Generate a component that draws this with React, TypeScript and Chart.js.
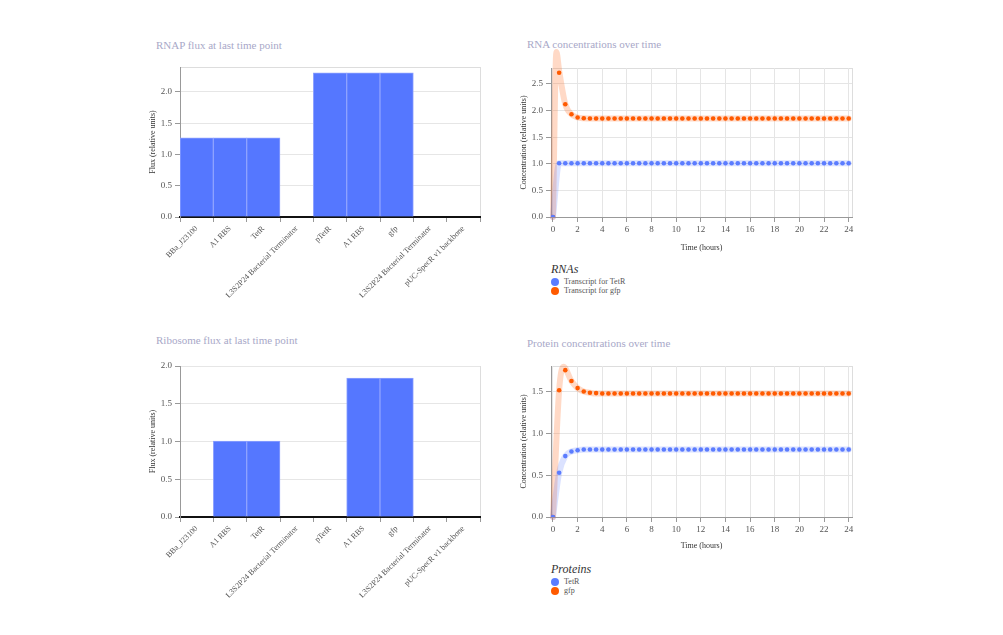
import React, { useEffect, useRef } from 'react';
import { Chart, registerables } from 'chart.js';

Chart.register(...registerables);

const FONT = "'Liberation Serif', 'DejaVu Serif', serif";

// ---------- Data ----------
const partLabels = [
  'BBa_J23100',
  'A1 RBS',
  'TetR',
  'L3S2P24 Bacterial Terminator',
  'pTetR',
  'A1 RBS',
  'gfp',
  'L3S2P24 Bacterial Terminator',
  'pUC-SpecR v1 backbone',
];
const rnapFlux = [1.265, 1.265, 1.265, 0, 2.305, 2.305, 2.305, 0, 0];
const ribosomeFlux = [0, 1.005, 1.005, 0, 0, 1.84, 1.84, 0, 0];

const times = [
  0, 0.5, 1, 1.5, 2, 2.5, 3, 3.5, 4, 4.5,
  5, 5.5, 6, 6.5, 7, 7.5, 8, 8.5, 9, 9.5,
  10, 10.5, 11, 11.5, 12, 12.5, 13, 13.5, 14, 14.5,
  15, 15.5, 16, 16.5, 17, 17.5, 18, 18.5, 19, 19.5,
  20, 20.5, 21, 21.5, 22, 22.5, 23, 23.5, 24,
];

const rnaTetR = [
  0, 1.01, 1.01, 1.01, 1.01, 1.01, 1.01, 1.01, 1.01, 1.01,
  1.01, 1.01, 1.01, 1.01, 1.01, 1.01, 1.01, 1.01, 1.01, 1.01,
  1.01, 1.01, 1.01, 1.01, 1.01, 1.01, 1.01, 1.01, 1.01, 1.01,
  1.01, 1.01, 1.01, 1.01, 1.01, 1.01, 1.01, 1.01, 1.01, 1.01,
  1.01, 1.01, 1.01, 1.01, 1.01, 1.01, 1.01, 1.01, 1.01,
];
const rnaGfp = [
  0, 2.71, 2.12, 1.93, 1.87, 1.855, 1.85, 1.85, 1.85, 1.85,
  1.85, 1.85, 1.85, 1.85, 1.85, 1.85, 1.85, 1.85, 1.85, 1.85,
  1.85, 1.85, 1.85, 1.85, 1.85, 1.85, 1.85, 1.85, 1.85, 1.85,
  1.85, 1.85, 1.85, 1.85, 1.85, 1.85, 1.85, 1.85, 1.85, 1.85,
  1.85, 1.85, 1.85, 1.85, 1.85, 1.85, 1.85, 1.85, 1.85,
];
const protTetR = [
  0, 0.53, 0.73, 0.785, 0.8, 0.81, 0.81, 0.81, 0.81, 0.81,
  0.81, 0.81, 0.81, 0.81, 0.81, 0.81, 0.81, 0.81, 0.81, 0.81,
  0.81, 0.81, 0.81, 0.81, 0.81, 0.81, 0.81, 0.81, 0.81, 0.81,
  0.81, 0.81, 0.81, 0.81, 0.81, 0.81, 0.81, 0.81, 0.81, 0.81,
  0.81, 0.81, 0.81, 0.81, 0.81, 0.81, 0.81, 0.81, 0.81,
];
const protGfp = [
  0, 1.52, 1.76, 1.63, 1.545, 1.505, 1.49, 1.485, 1.48, 1.48,
  1.48, 1.48, 1.48, 1.48, 1.48, 1.48, 1.48, 1.48, 1.48, 1.48,
  1.48, 1.48, 1.48, 1.48, 1.48, 1.48, 1.48, 1.48, 1.48, 1.48,
  1.48, 1.48, 1.48, 1.48, 1.48, 1.48, 1.48, 1.48, 1.48, 1.48,
  1.48, 1.48, 1.48, 1.48, 1.48, 1.48, 1.48, 1.48, 1.48,
];

// Shaded uncertainty bands
const rnaTetRBandT = [0, 0.5, 24];
const rnaTetRBandV = [0, 1.01, 1.01];
const rnaGfpBandT = [0, 0.28, 0.5, 1, 1.5, 2, 2.5, 3, 24];
const rnaGfpBandV = [0, 3.1, 2.75, 2.12, 1.93, 1.87, 1.855, 1.85, 1.85];
const protTetRBandT = [0, 0.5, 1, 1.5, 2, 2.5, 24];
const protTetRBandV = [0, 0.53, 0.73, 0.785, 0.8, 0.81, 0.81];
const protGfpBandT = [0, 0.5, 0.85, 1.5, 2, 2.5, 3, 3.5, 24];
const protGfpBandV = [0, 1.52, 1.8, 1.63, 1.545, 1.505, 1.49, 1.48, 1.48];

const BAR_BLUE = '#5577ff';
const BLUE = '#5b7cff';
const ORANGE = '#ff5a00';
const BLUE_BAND = 'rgba(90,125,255,0.22)';
const ORANGE_BAND = 'rgba(255,120,50,0.28)';
const TITLE_COLOR = '#a8a8c8';

const boxPlugin = {
  id: 'plotBox',
  beforeDraw(chart: any) {
    const { ctx, chartArea } = chart;
    ctx.save();
    ctx.strokeStyle = '#dddddd';
    ctx.lineWidth = 1;
    ctx.strokeRect(
      Math.round(chartArea.left) + 0.5,
      Math.round(chartArea.top) + 0.5,
      Math.round(chartArea.right - chartArea.left),
      Math.round(chartArea.bottom - chartArea.top)
    );
    ctx.restore();
  },
};

const toXY = (xs: number[], ys: number[]) => xs.map((x, i) => ({ x, y: ys[i] }));

function BarChart(props: {
  left: number; top: number; width: number; height: number;
  values: number[]; max: number; padTop: number; plotH: number;
}) {
  const ref = useRef<HTMLCanvasElement>(null);
  useEffect(() => {
    const xBox = props.height - props.padTop - props.plotH;
    const chart = new Chart(ref.current!, {
      type: 'bar',
      data: {
        labels: partLabels,
        datasets: [
          {
            data: props.values,
            backgroundColor: BAR_BLUE,
            borderColor: '#8ea2ff',
            borderWidth: 1,
            barPercentage: 1,
            categoryPercentage: 1,
          },
        ],
      },
      options: {
        responsive: false,
        animation: false,
        devicePixelRatio: 1,
        layout: { padding: { top: props.padTop, right: 10, left: 0, bottom: 0 } },
        plugins: { legend: { display: false }, tooltip: { enabled: false } },
        scales: {
          x: {
            grid: { drawOnChartArea: false, drawTicks: true, tickLength: 5, color: '#999' },
            border: { color: '#111', width: 2 },
            ticks: {
              autoSkip: false,
              maxRotation: 45,
              minRotation: 45,
              padding: 2,
              color: '#555',
              font: { family: FONT, size: 8 },
            },
            afterFit: (s: any) => { s.height = xBox; },
          },
          y: {
            min: 0,
            max: props.max,
            grid: { color: '#e6e6e6', tickColor: '#999', tickLength: 5 },
            border: { color: '#999', width: 1 },
            ticks: {
              stepSize: 0.5,
              includeBounds: false,
              padding: 3,
              color: '#555',
              font: { family: FONT, size: 9 },
              callback: (v: any) => Number(v).toFixed(1),
            },
            title: {
              display: true,
              text: 'Flux (relative units)',
              color: '#333',
              font: { family: FONT, size: 8 },
            },
            afterFit: (s: any) => { s.width = 36; },
          },
        },
      },
      plugins: [boxPlugin],
    } as any);
    return () => chart.destroy();
  }, []);
  return (
    <canvas
      ref={ref}
      width={props.width}
      height={props.height}
      style={{ position: 'absolute', left: props.left, top: props.top, width: props.width, height: props.height }}
    />
  );
}

function TimeChart(props: {
  left: number; top: number; width: number; height: number;
  padTop: number; plotH: number; max: number;
  series: { label: string; color: string; band: string; values: number[]; bandT: number[]; bandV: number[] }[];
}) {
  const ref = useRef<HTMLCanvasElement>(null);
  useEffect(() => {
    const xBox = props.height - props.padTop - props.plotH;
    const datasets: any[] = [];
    props.series.forEach((s) => {
      datasets.push({
        label: s.label,
        data: toXY(times, s.values),
        showLine: false,
        pointRadius: 2.3,
        pointBorderWidth: 0,
        pointBackgroundColor: s.color,
        borderColor: s.color,
        order: 0,
      });
      datasets.push({
        label: s.label + ' band',
        data: toXY(s.bandT, s.bandV),
        showLine: true,
        pointRadius: 0,
        borderColor: s.band,
        borderWidth: 6,
        borderCapStyle: 'round',
        borderJoinStyle: 'round',
        cubicInterpolationMode: 'monotone',
        fill: false,
        clip: false,
        order: 1,
      });
    });
    const chart = new Chart(ref.current!, {
      type: 'scatter',
      data: { datasets },
      options: {
        responsive: false,
        animation: false,
        devicePixelRatio: 1,
        layout: { padding: { top: props.padTop, right: 8, left: 0, bottom: 0 } },
        plugins: { legend: { display: false }, tooltip: { enabled: false } },
        scales: {
          x: {
            type: 'linear',
            min: -0.16,
            max: 24.27,
            grid: { color: '#e5e5e5', tickColor: '#999', tickLength: 5 },
            border: { color: '#999', width: 1 },
            ticks: {
              stepSize: 2,
              includeBounds: false,
              padding: 2,
              maxRotation: 0,
              color: '#555',
              font: { family: FONT, size: 9 },
            },
            title: {
              display: true,
              text: 'Time (hours)',
              color: '#333',
              font: { family: FONT, size: 8 },
            },
            afterFit: (s: any) => { s.height = xBox; },
          },
          y: {
            min: 0,
            max: props.max,
            grid: { color: '#e5e5e5', tickColor: '#999', tickLength: 5 },
            border: { color: '#999', width: 1 },
            ticks: {
              stepSize: 0.5,
              includeBounds: false,
              padding: 3,
              color: '#555',
              font: { family: FONT, size: 9 },
              callback: (v: any) => Number(v).toFixed(1),
            },
            title: {
              display: true,
              text: 'Concentration (relative units)',
              color: '#333',
              font: { family: FONT, size: 8 },
            },
            afterFit: (s: any) => { s.width = 36; },
          },
        },
      },
      plugins: [boxPlugin],
    } as any);
    return () => chart.destroy();
  }, []);
  return (
    <canvas
      ref={ref}
      width={props.width}
      height={props.height}
      style={{ position: 'absolute', left: props.left, top: props.top, width: props.width, height: props.height }}
    />
  );
}

function Title({ x, y, text }: { x: number; y: number; text: string }) {
  return (
    <div
      style={{
        position: 'absolute', left: x, top: y, fontFamily: FONT, fontSize: 11,
        color: TITLE_COLOR, whiteSpace: 'nowrap', lineHeight: '14px',
      }}
    >
      {text}
    </div>
  );
}

function Legend({ x, y, title, items }: { x: number; y: number; title: string; items: { label: string; color: string }[] }) {
  return (
    <div style={{ position: 'absolute', left: x, top: y, fontFamily: FONT }}>
      <div style={{ fontStyle: 'italic', fontSize: 12, color: '#333', lineHeight: '14px', marginBottom: 1 }}>{title}</div>
      {items.map((it, i) => (
        <div key={i} style={{ display: 'flex', alignItems: 'center', height: 9, fontSize: 8, color: '#555' }}>
          <span style={{ display: 'inline-block', width: 8, height: 8, borderRadius: 4, background: it.color, marginRight: 5 }} />
          <span style={{ lineHeight: '9px' }}>{it.label}</span>
        </div>
      ))}
    </div>
  );
}

const rnaLegend = ['Transcript for TetR', 'Transcript for gfp'];
const proteinLegend = ['TetR', 'gfp'];

export default function App() {
  return (
    <div style={{ position: 'absolute', left: 0, top: 0, width: 1003, height: 635, background: '#fff' }}>
      <Title x={156} y={38} text="RNAP flux at last time point" />
      <BarChart left={144} top={55} width={346} height={262} padTop={12} plotH={150} values={rnapFlux} max={2.4} />

      <Title x={527} y={37} text="RNA concentrations over time" />
      <TimeChart
        left={515} top={40} width={345} height={217} padTop={28} plotH={149} max={2.8}
        series={[
          { label: rnaLegend[0], color: BLUE, band: BLUE_BAND, values: rnaTetR, bandT: rnaTetRBandT, bandV: rnaTetRBandV },
          { label: rnaLegend[1], color: ORANGE, band: ORANGE_BAND, values: rnaGfp, bandT: rnaGfpBandT, bandV: rnaGfpBandV },
        ]}
      />
      <Legend x={551} y={262} title="RNAs" items={[{ label: rnaLegend[0], color: BLUE }, { label: rnaLegend[1], color: ORANGE }]} />

      <Title x={156} y={333} text="Ribosome flux at last time point" />
      <BarChart left={144} top={354} width={346} height={262} padTop={12} plotH={151} values={ribosomeFlux} max={2.0} />

      <Title x={527} y={336} text="Protein concentrations over time" />
      <TimeChart
        left={515} top={354} width={345} height={201} padTop={12} plotH={151} max={1.81}
        series={[
          { label: proteinLegend[0], color: BLUE, band: BLUE_BAND, values: protTetR, bandT: protTetRBandT, bandV: protTetRBandV },
          { label: proteinLegend[1], color: ORANGE, band: ORANGE_BAND, values: protGfp, bandT: protGfpBandT, bandV: protGfpBandV },
        ]}
      />
      <Legend x={551} y={562} title="Proteins" items={[{ label: proteinLegend[0], color: BLUE }, { label: proteinLegend[1], color: ORANGE }]} />
    </div>
  );
}
